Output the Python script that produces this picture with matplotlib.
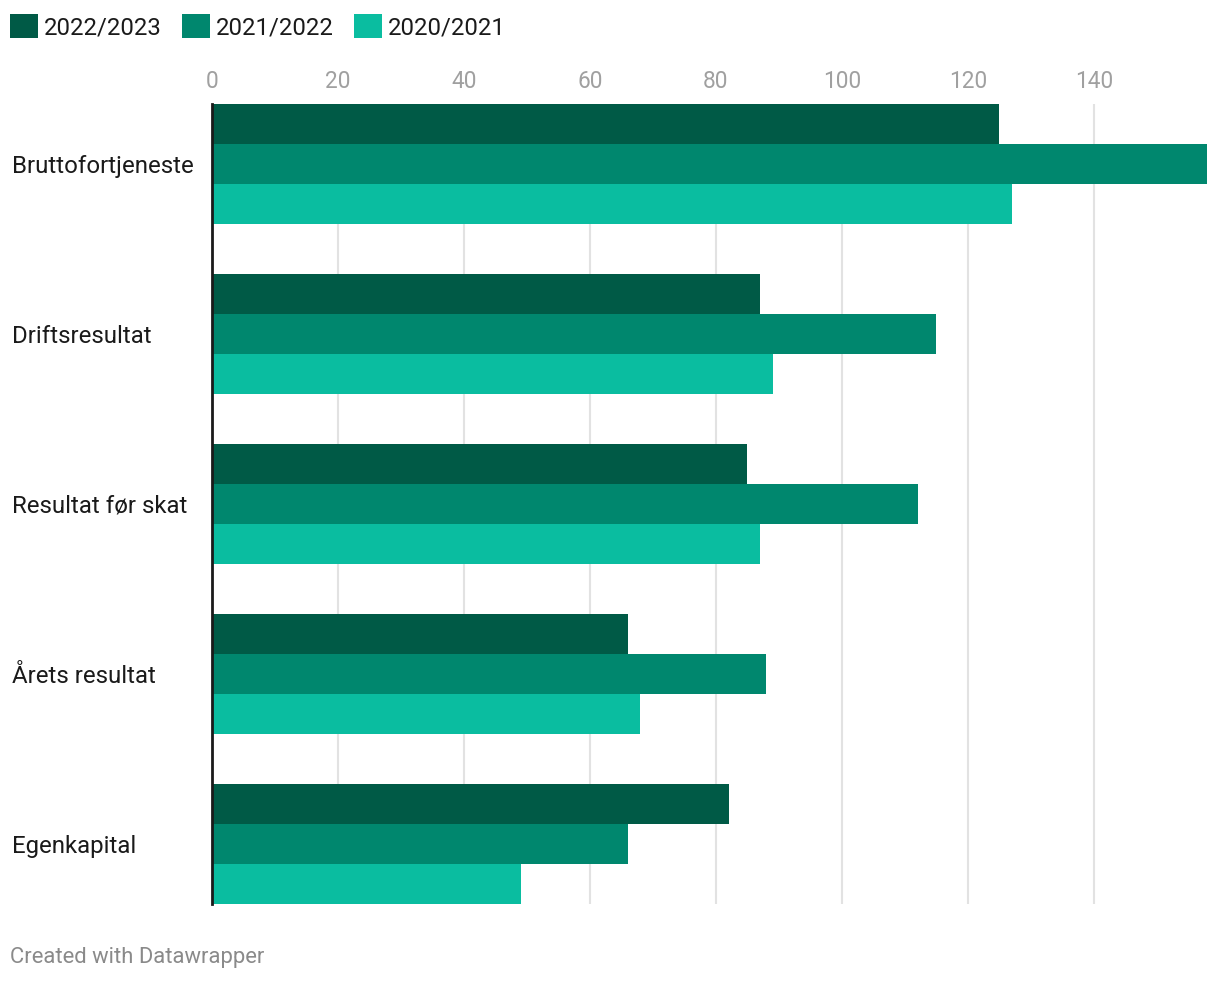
import matplotlib
matplotlib.use("Agg")
import matplotlib.pyplot as plt
import numpy as np

plt.rcParams['font.family'] = ['Roboto', 'DejaVu Sans']

categories = ["Bruttofortjeneste", "Driftsresultat", "Resultat før skat", "Årets resultat", "Egenkapital"]
series_names = ["2022/2023", "2021/2022", "2020/2021"]
v_2022_2023 = [125, 87, 85, 66, 82]
v_2021_2022 = [158, 115, 112, 88, 66]
v_2020_2021 = [127, 89, 87, 68, 49]
series_values = [v_2022_2023, v_2021_2022, v_2020_2021]
colors = ["#005a46", "#00876e", "#0abda0"]
xticks = [0, 20, 40, 60, 80, 100, 120, 140]

W, H = 1220, 982
fig = plt.figure(figsize=(W / 100, H / 100), dpi=100)
ax = fig.add_axes([212 / W, 1 - 904 / H, 996 / W, 800 / H])

unit = 170.0  # px per group
bh = 40.0 / unit
y = np.arange(len(categories))
handles = []
for i, (name, vals, c) in enumerate(zip(series_names, series_values, colors)):
    b = ax.barh(y + (i - 1) * bh, vals, height=bh, color=c, label=name, zorder=2, linewidth=0)
    handles.append(b)

ax.set_xlim(0, 996 / 6.3)
ax.set_ylim(len(categories) - 1 + 60 / unit, -60 / unit)

for s in ["top", "right", "bottom"]:
    ax.spines[s].set_visible(False)
ax.spines["left"].set_color("#1a1a1a")
ax.spines["left"].set_linewidth(2)
ax.spines["left"].set_zorder(3)

ax.xaxis.tick_top()
ax.set_xticks(xticks)
ax.set_xticklabels([str(t) for t in xticks])
ax.tick_params(axis='x', length=0, pad=8, labelsize=16.3, labelcolor="#a0a0a0")
ax.grid(axis='x', color="#e2e2e2", linewidth=1.5, zorder=0)
ax.set_axisbelow(True)

ax.set_yticks(y)
ax.set_yticklabels(categories)
ax.tick_params(axis='y', length=0, pad=143.8, labelsize=17.3, labelcolor="#1a1a1a")
for lab in ax.get_yticklabels():
    lab.set_horizontalalignment('left')

fig.legend(handles=handles, labels=series_names, loc='center left',
           bbox_to_anchor=(5 / W, 1 - 27 / H), ncol=3, frameon=False,
           fontsize=17.2, handlelength=1.17, handleheight=1.17,
           handletextpad=0.25, columnspacing=0.85, borderaxespad=0, borderpad=0.2,
           labelcolor="#1a1a1a")

fig.text(10 / W, 1 - 957 / H, "Created with Datawrapper", fontsize=15.8,
         color="#8a8a8a", ha='left', va='center')

fig.savefig("out.png", dpi=100, facecolor="white")
